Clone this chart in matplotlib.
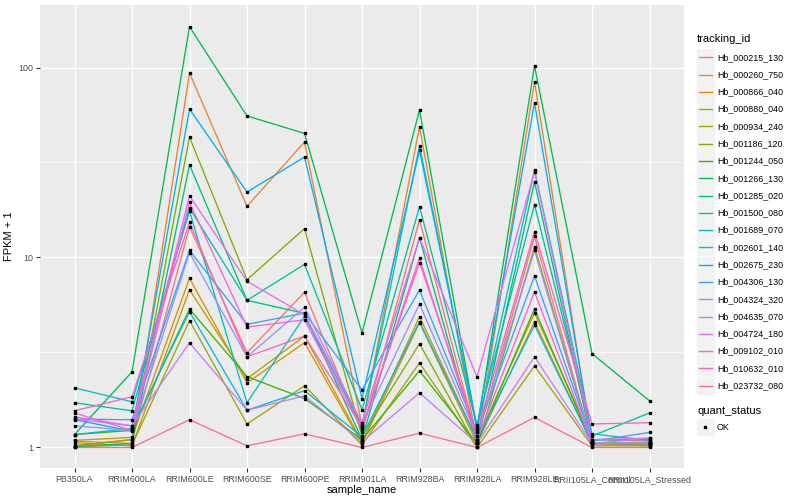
import matplotlib.pyplot as plt
import numpy as np

plt.rcParams['font.family'] = ['Liberation Sans', 'DejaVu Sans']

# === Data ===
samples = ["PB350LA", "RRIM600LA", "RRIM600LE", "RRIM600SE", "RRIM600PE", "RRIM901LA",
           "RRIM928BA", "RRIM928LA", "RRIM928LE", "RRII105LA_Control", "RRII105LA_Stressed"]

tracking_ids = ["Hb_000215_130", "Hb_000260_750", "Hb_000866_040", "Hb_000880_040",
                "Hb_000934_240", "Hb_001186_120", "Hb_001244_050", "Hb_001266_130",
                "Hb_001285_020", "Hb_001500_080", "Hb_001689_070", "Hb_002601_140",
                "Hb_002675_230", "Hb_004306_130", "Hb_004324_320", "Hb_004635_070",
                "Hb_004724_180", "Hb_009102_010", "Hb_010632_010", "Hb_023732_080"]

# FPKM + 1 per tracking_id, one value per sample
fpkm = {
    "Hb_000215_130": [1.02, 1.10, 14.5, 3.15, 6.56, 1.20, 15.8, 1.10, 12.9, 1.05, 1.02],
    "Hb_000260_750": [1.08, 1.05, 93.5, 18.6, 40.5, 1.30, 48.8, 1.05, 84.0, 1.05, 1.03],
    "Hb_000866_040": [1.09, 1.13, 7.77, 2.19, 3.56, 1.05, 4.54, 1.05, 4.59, 1.05, 1.05],
    "Hb_000880_040": [1.06, 1.02, 6.77, 2.30, 3.86, 1.07, 4.88, 1.10, 5.10, 1.10, 1.08],
    "Hb_000934_240": [1.01, 1.03, 4.65, 1.33, 2.11, 1.03, 2.79, 1.00, 2.69, 1.02, 1.02],
    "Hb_001186_120": [1.02, 1.10, 43.0, 7.64, 14.2, 1.15, 3.52, 1.00, 11.4, 1.05, 1.04],
    "Hb_001244_050": [1.17, 1.23, 5.35, 2.36, 1.81, 1.10, 2.53, 1.05, 5.36, 1.05, 1.06],
    "Hb_001266_130": [1.17, 2.50, 164.0, 55.6, 45.0, 4.00, 59.8, 1.25, 102.0, 3.12, 1.76],
    "Hb_001285_020": [1.01, 1.05, 30.7, 5.95, 5.08, 1.10, 12.7, 1.05, 25.0, 1.05, 1.05],
    "Hb_001500_080": [1.72, 1.56, 18.2, 5.95, 9.20, 1.58, 18.5, 1.31, 19.0, 1.15, 1.52],
    "Hb_001689_070": [2.06, 1.74, 17.5, 1.72, 4.90, 1.30, 38.7, 1.25, 28.8, 1.18, 1.09],
    "Hb_002601_140": [1.17, 1.26, 5.18, 1.57, 1.99, 1.14, 4.59, 1.10, 4.41, 1.05, 1.05],
    "Hb_002675_230": [1.40, 1.22, 60.4, 22.1, 33.8, 1.81, 36.6, 1.28, 65.3, 1.10, 1.10],
    "Hb_004306_130": [1.41, 1.40, 10.9, 4.45, 5.10, 2.01, 6.74, 1.20, 8.00, 1.08, 1.20],
    "Hb_004324_320": [1.30, 1.23, 10.6, 3.00, 5.47, 1.32, 5.69, 1.15, 10.9, 1.05, 1.12],
    "Hb_004635_070": [1.41, 1.30, 3.56, 1.57, 1.87, 1.07, 1.94, 1.05, 3.00, 1.05, 1.06],
    "Hb_004724_180": [1.45, 1.30, 21.1, 7.50, 5.00, 1.35, 12.7, 2.35, 28.3, 1.10, 1.12],
    "Hb_009102_010": [1.52, 1.23, 19.5, 4.30, 4.70, 1.25, 9.94, 1.10, 6.60, 1.05, 1.05],
    "Hb_010632_010": [1.56, 1.85, 15.3, 3.00, 3.86, 1.28, 9.40, 1.20, 13.7, 1.33, 1.35],
    "Hb_023732_080": [1.00, 1.00, 1.40, 1.02, 1.18, 1.00, 1.19, 1.00, 1.44, 1.00, 1.00],
}

# ggplot2 default hue palette for 20 groups
colors = ["#F8766D", "#EA8331", "#D89000", "#C09B00", "#A3A500", "#7CAE00", "#39B600",
          "#00BB4E", "#00BF7D", "#00C1A3", "#00BFC4", "#00BAE0", "#00B0F6", "#35A2FF",
          "#9590FF", "#C77CFF", "#E76BF3", "#FA62DB", "#FF62BC", "#FF6C91"]

# === Setup ===
fig = plt.figure(figsize=(8, 5), dpi=100)
ax = fig.add_axes([40 / 800, 1 - 468 / 500, 644 / 800, 463 / 500])
ax.set_facecolor("#EBEBEB")
x = np.arange(len(samples))

# === Lines, then points ===
for tid, col in zip(tracking_ids, colors):
    ax.plot(x, fpkm[tid], color=col, lw=0.95, zorder=2)
for tid in tracking_ids:
    ax.plot(x, fpkm[tid], ls="none", marker="s", ms=1.9, color="black", zorder=3)

# === Formatting ===
ax.set_yscale("log")
ax.set_ylim(10 ** -0.108, 10 ** 2.329)
ax.set_xlim(-0.6, len(samples) - 0.4)
ax.set_xticks(x)
ax.set_xticklabels(samples)
ax.set_yticks([1, 10, 100])
ax.set_yticklabels(["1", "10", "100"])
ax.set_yticks([10 ** 0.5, 10 ** 1.5], minor=True)
ax.yaxis.set_minor_formatter(plt.NullFormatter())
ax.tick_params(axis="x", which="minor", length=0)
ax.tick_params(which="major", length=3, width=0.8, color="#333333",
               labelsize=6.4, labelcolor="#4D4D4D", pad=2)
ax.tick_params(axis="y", which="minor", length=0)
ax.grid(which="major", color="white", lw=1.0)
ax.grid(which="minor", axis="y", color="white", lw=0.5)
ax.set_axisbelow(True)
for s in ax.spines.values():
    s.set_visible(False)

ax.set_xlabel("sample_name", fontsize=8, labelpad=1)
ax.set_ylabel("FPKM + 1", fontsize=8, labelpad=3)

# === Legend (ggplot style) ===
def fx(px):
    return px / 800

def fy(py):
    return 1 - py / 500

fig.text(fx(697), fy(39), "tracking_id", fontsize=8, va="center", ha="left")
step = 17.28
for i, (tid, col) in enumerate(zip(tracking_ids, colors)):
    cy = 57.3 + i * step
    fig.patches.append(plt.Rectangle((fx(697), fy(cy + 8.1)), fx(16.5), 16.2 / 500,
                                     transform=fig.transFigure, color="#F2F2F2"))
    fig.lines.append(plt.Line2D([fx(698.5), fx(712)], [fy(cy), fy(cy)], color=col, lw=1.0,
                                transform=fig.transFigure))
    fig.text(fx(717), fy(cy), tid, fontsize=6.4, va="center", ha="left")

fig.text(fx(697), fy(411.5), "quant_status", fontsize=8, va="center", ha="left")
fig.patches.append(plt.Rectangle((fx(697), fy(427.3 + 8.1)), fx(16.5), 16.2 / 500,
                                 transform=fig.transFigure, color="#F2F2F2"))
fig.lines.append(plt.Line2D([fx(705)], [fy(427.3)], ls="none", marker="s", ms=1.9,
                            color="black", transform=fig.transFigure))
fig.text(fx(717), fy(427.3), "OK", fontsize=6.4, va="center", ha="left")

fig.savefig("out.png", dpi=100, facecolor="white")
